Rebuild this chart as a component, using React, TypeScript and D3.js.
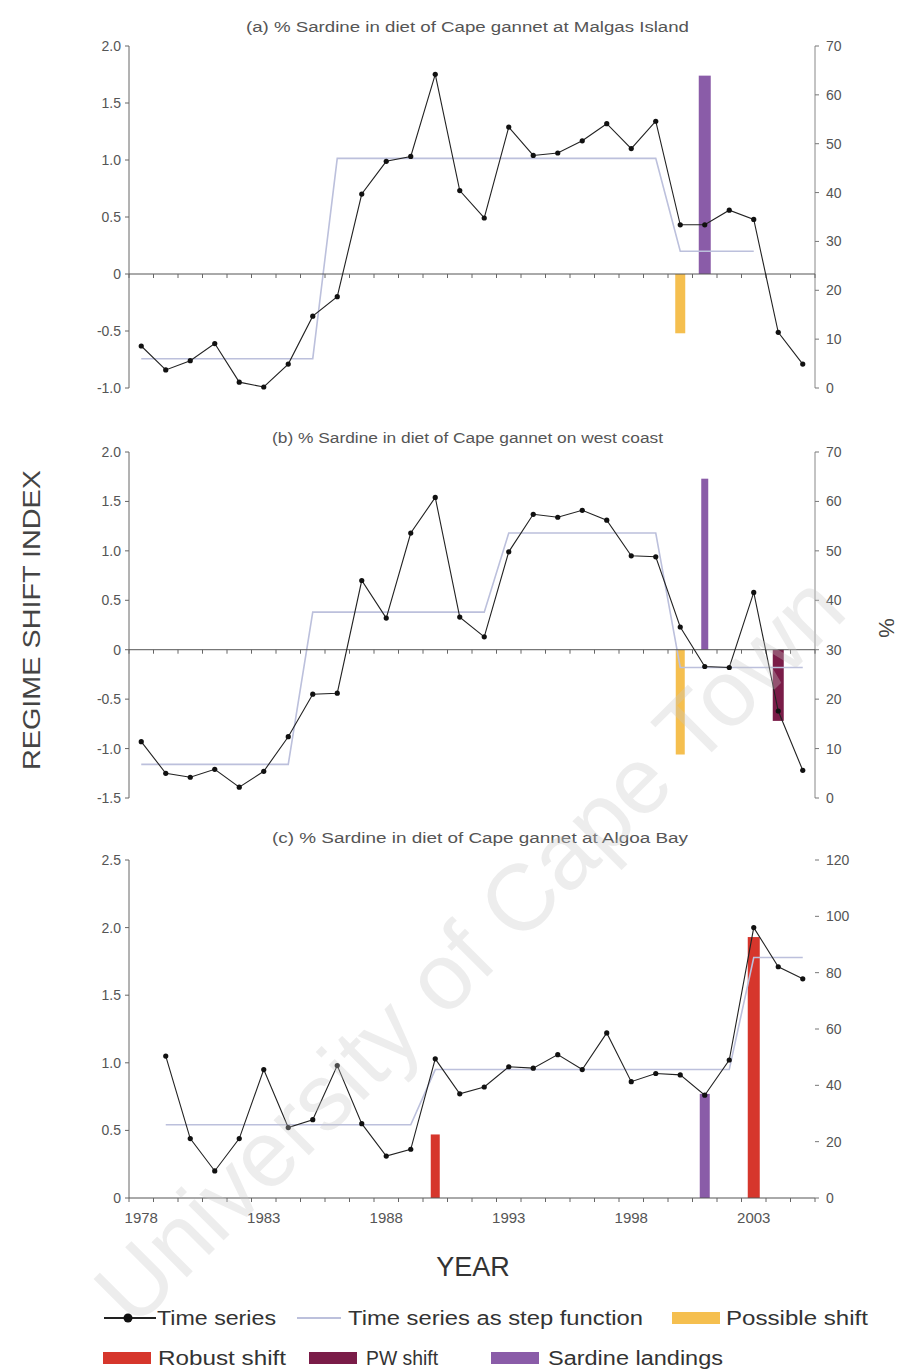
import React from "react";
import * as d3 from "d3";

// ---------- data ----------
const YEARS = d3.range(1978, 2006);
const YEAR_LABELS = [1978, 1983, 1988, 1993, 1998, 2003];

// (a) Malgas Island – % sardine in diet (right axis, %)
const malgasYears = [1978, 1979, 1980, 1981, 1982, 1983, 1984, 1985, 1986, 1987, 1988, 1989, 1990, 1991, 1992, 1993, 1994, 1995, 1996, 1997, 1998, 1999, 2000, 2001, 2002, 2003, 2004, 2005];
const malgasPct = [8.6, 3.7, 5.6, 9.1, 1.2, 0.2, 4.9, 14.7, 18.7, 39.7, 46.4, 47.4, 64.2, 40.4, 34.8, 53.4, 47.6, 48.1, 50.6, 54.1, 49.0, 54.6, 33.4, 33.4, 36.4, 34.5, 11.4, 4.9];
const malgasStepYears = [1978, 1979, 1980, 1981, 1982, 1983, 1984, 1985, 1986, 1987, 1988, 1989, 1990, 1991, 1992, 1993, 1994, 1995, 1996, 1997, 1998, 1999, 2000, 2001, 2002, 2003];
const malgasStep = [6, 6, 6, 6, 6, 6, 6, 6, 47, 47, 47, 47, 47, 47, 47, 47, 47, 47, 47, 47, 47, 47, 28, 28, 28, 28];
const malgasPossible = [{ year: 2000, rsi: -0.52 }];
const malgasLandings = [{ year: 2001, rsi: 1.74 }];

// (b) west coast
const westYears = [1978, 1979, 1980, 1981, 1982, 1983, 1984, 1985, 1986, 1987, 1988, 1989, 1990, 1991, 1992, 1993, 1994, 1995, 1996, 1997, 1998, 1999, 2000, 2001, 2002, 2003, 2004, 2005];
const westPct = [11.4, 5.0, 4.2, 5.8, 2.2, 5.4, 12.4, 21.0, 21.2, 44.0, 36.4, 53.6, 60.8, 36.6, 32.6, 49.8, 57.4, 56.8, 58.2, 56.2, 49.0, 48.8, 34.6, 26.6, 26.4, 41.6, 17.6, 5.6];
const westStep = [6.8, 6.8, 6.8, 6.8, 6.8, 6.8, 6.8, 37.6, 37.6, 37.6, 37.6, 37.6, 37.6, 37.6, 37.6, 53.6, 53.6, 53.6, 53.6, 53.6, 53.6, 53.6, 26.4, 26.4, 26.4, 26.4, 26.4, 26.4];
const westPossible = [{ year: 2000, rsi: -1.06 }];
const westPW = [{ year: 2004, rsi: -0.72 }];
const westLandings = [{ year: 2001, rsi: 1.73 }];

// (c) Algoa Bay
const algoaYears = [1979, 1980, 1981, 1982, 1983, 1984, 1985, 1986, 1987, 1988, 1989, 1990, 1991, 1992, 1993, 1994, 1995, 1996, 1997, 1998, 1999, 2000, 2001, 2002, 2003, 2004, 2005];
const algoaPct = [50.4, 21.1, 9.6, 21.1, 45.6, 25.0, 27.8, 47.0, 26.4, 14.9, 17.3, 49.4, 37.0, 39.4, 46.6, 46.1, 50.9, 45.6, 58.6, 41.3, 44.2, 43.7, 36.5, 49.0, 96.0, 82.1, 77.8];
const algoaStep = [26, 26, 26, 26, 26, 26, 26, 26, 26, 26, 26, 45.6, 45.6, 45.6, 45.6, 45.6, 45.6, 45.6, 45.6, 45.6, 45.6, 45.6, 45.6, 45.6, 85.4, 85.4, 85.4];
const algoaRobust = [{ year: 1990, rsi: 0.47 }, { year: 2003, rsi: 1.93 }];
const algoaLandings = [{ year: 2001, rsi: 0.77 }];

// axis ticks
const ticksLeftA = [-1, -0.5, 0, 0.5, 1, 1.5, 2];
const ticksLeftB = [-1.5, -1, -0.5, 0, 0.5, 1, 1.5, 2];
const ticksLeftC = [0, 0.5, 1, 1.5, 2, 2.5];
const ticksRightAB = [0, 10, 20, 30, 40, 50, 60, 70];
const ticksRightC = [0, 20, 40, 60, 80, 100, 120];

// ---------- styles ----------
const C_POSSIBLE = "#f5bf4f";
const C_ROBUST = "#d6362c";
const C_PW = "#7a1c48";
const C_LAND = "#8a5ca8";
const C_STEP = "#bcc0dc";
const FONT = "Liberation Sans, Arial, sans-serif";

const X0 = 129, X1 = 815;
const x = d3.scaleBand<number>().domain(YEARS).range([X0, X1]).padding(0);
const cx = (yr: number) => (x(yr) as number) + x.bandwidth() / 2;

type Bar = { year: number; rsi: number; color: string; w: number };
type Panel = {
  title: string; titleX: number; titleLen: number; titleY: number;
  top: number; bottom: number;
  lDom: [number, number]; rDom: [number, number];
  lTicks: number[]; rTicks: number[];
  years: number[]; pct: number[]; stepYears: number[]; step: number[];
  bars: Bar[]; rightLine: boolean; xLabels: boolean;
};

const panels: Panel[] = [
  {
    title: "(a) % Sardine in diet of Cape gannet at Malgas Island", titleX: 246, titleLen: 443, titleY: 32,
    top: 46, bottom: 388, lDom: [-1, 2], rDom: [0, 70], lTicks: ticksLeftA, rTicks: ticksRightAB,
    years: malgasYears, pct: malgasPct, stepYears: malgasStepYears, step: malgasStep,
    bars: [
      ...malgasPossible.map((d) => ({ ...d, color: C_POSSIBLE, w: 10 })),
      ...malgasLandings.map((d) => ({ ...d, color: C_LAND, w: 12 })),
    ],
    rightLine: true, xLabels: false,
  },
  {
    title: "(b) % Sardine in diet of Cape gannet on west coast", titleX: 272, titleLen: 391, titleY: 443,
    top: 452, bottom: 798, lDom: [-1.5, 2], rDom: [0, 70], lTicks: ticksLeftB, rTicks: ticksRightAB,
    years: westYears, pct: westPct, stepYears: westYears, step: westStep,
    bars: [
      ...westPossible.map((d) => ({ ...d, color: C_POSSIBLE, w: 9 })),
      ...westPW.map((d) => ({ ...d, color: C_PW, w: 11 })),
      ...westLandings.map((d) => ({ ...d, color: C_LAND, w: 7 })),
    ],
    rightLine: true, xLabels: false,
  },
  {
    title: "(c) % Sardine in diet of Cape gannet at Algoa Bay", titleX: 272, titleLen: 416, titleY: 843,
    top: 860, bottom: 1198, lDom: [0, 2.5], rDom: [0, 120], lTicks: ticksLeftC, rTicks: ticksRightC,
    years: algoaYears, pct: algoaPct, stepYears: algoaYears, step: algoaStep,
    bars: [
      ...algoaRobust.map((d) => ({ ...d, color: C_ROBUST, w: d.year === 2003 ? 12 : 9 })),
      ...algoaLandings.map((d) => ({ ...d, color: C_LAND, w: 10 })),
    ],
    rightLine: false, xLabels: true,
  },
];

const fmtL = (v: number) => (v === 0 ? "0" : v.toFixed(1));

function PanelView({ p }: { p: Panel }) {
  const yL = d3.scaleLinear().domain(p.lDom).range([p.bottom, p.top]);
  const yR = d3.scaleLinear().domain(p.rDom).range([p.bottom, p.top]);
  const y0 = yL(0);
  const line = d3.line<[number, number]>().x((d) => cx(d[0])).y((d) => yR(d[1]));
  const series: [number, number][] = p.years.map((yr, i) => [yr, p.pct[i]]);
  const steps: [number, number][] = p.stepYears.map((yr, i) => [yr, p.step[i]]);
  const boundaries = d3.range(0, YEARS.length + 1).map((k) => X0 + k * x.bandwidth());
  return (
    <g>
      <text x={p.titleX} y={p.titleY} fontSize={14} fill="#555" textLength={p.titleLen} lengthAdjust="spacingAndGlyphs">
        {p.title}
      </text>
      {/* left axis */}
      <line x1={X0} x2={X0} y1={p.top} y2={p.bottom} stroke="#666" strokeWidth={1} />
      {p.lTicks.map((t) => (
        <g key={"l" + t}>
          <line x1={X0 - 4} x2={X0} y1={yL(t)} y2={yL(t)} stroke="#666" />
          <text x={X0 - 8} y={yL(t)} dy="0.36em" textAnchor="end" fontSize={14} fill="#555">
            {fmtL(t)}
          </text>
        </g>
      ))}
      {/* right axis */}
      {p.rightLine && <line x1={X1} x2={X1} y1={p.top} y2={p.bottom} stroke="#888" strokeWidth={1} />}
      {p.rTicks.map((t) => (
        <g key={"r" + t}>
          <line x1={X1} x2={X1 + 4} y1={yR(t)} y2={yR(t)} stroke="#777" />
          <text x={X1 + 11} y={yR(t)} dy="0.36em" textAnchor="start" fontSize={14} fill="#555">
            {t}
          </text>
        </g>
      ))}
      {/* bars */}
      {p.bars.map((b, i) => (
        <rect key={"b" + i} x={cx(b.year) - b.w / 2} y={Math.min(yL(0), yL(b.rsi))} width={b.w}
          height={Math.abs(yL(b.rsi) - yL(0))} fill={b.color} />
      ))}
      {/* step function */}
      <path d={line(steps) || ""} fill="none" stroke={C_STEP} strokeWidth={1.6} />
      {/* zero / category axis */}
      <line x1={X0} x2={X1} y1={y0} y2={y0} stroke="#555" strokeWidth={1} />
      {boundaries.map((bx, i) => (
        <line key={"t" + i} x1={bx} x2={bx} y1={y0} y2={y0 + 4} stroke="#666" />
      ))}
      {p.xLabels &&
        YEAR_LABELS.map((yr) => (
          <text key={"x" + yr} x={cx(yr)} y={y0 + 25} textAnchor="middle" fontSize={15} fill="#555">
            {yr}
          </text>
        ))}
      {/* time series */}
      <path d={line(series) || ""} fill="none" stroke="#222" strokeWidth={1.1} />
      {series.map((d, i) => (
        <circle key={"c" + i} cx={cx(d[0])} cy={yR(d[1])} r={2.6} fill="#111" />
      ))}
    </g>
  );
}

export default function App() {
  return (
    <svg width={902} height={1372} viewBox="0 0 902 1372"
      style={{ position: "absolute", left: 0, top: 0, display: "block", background: "#fff" }}
      fontFamily={FONT}>
      <rect x={0} y={0} width={902} height={1372} fill="#fff" />
      {panels.map((p, i) => (
        <PanelView key={i} p={p} />
      ))}
      {/* axis titles */}
      <text transform="translate(40,620) rotate(-90)" textAnchor="middle" fontSize={24} fill="#444"
        textLength={300} lengthAdjust="spacingAndGlyphs">
        REGIME SHIFT INDEX
      </text>
      <text transform="translate(879,628) rotate(90)" textAnchor="middle" fontSize={22} fill="#444">
        %
      </text>
      <text x={473} y={1276} textAnchor="middle" fontSize={27} fill="#333">
        YEAR
      </text>
      {/* legend */}
      <g fontSize={20} fill="#333">
        <line x1={104} x2={156} y1={1318} y2={1318} stroke="#222" strokeWidth={2} />
        <circle cx={128} cy={1318} r={4.5} fill="#111" />
        <text x={157} y={1325} textLength={119} lengthAdjust="spacingAndGlyphs">Time series</text>
        <line x1={297} x2={341} y1={1318} y2={1318} stroke={C_STEP} strokeWidth={2} />
        <text x={348} y={1325} textLength={295} lengthAdjust="spacingAndGlyphs">Time series as step function</text>
        <rect x={672} y={1312} width={48} height={12} fill={C_POSSIBLE} />
        <text x={726} y={1325} textLength={142} lengthAdjust="spacingAndGlyphs">Possible shift</text>

        <rect x={103} y={1352} width={48} height={12} fill={C_ROBUST} />
        <text x={158} y={1365} textLength={128} lengthAdjust="spacingAndGlyphs">Robust shift</text>
        <rect x={309} y={1352} width={48} height={12} fill={C_PW} />
        <text x={366} y={1365} textLength={72} lengthAdjust="spacingAndGlyphs">PW shift</text>
        <rect x={491} y={1352} width={48} height={12} fill={C_LAND} />
        <text x={548} y={1365} textLength={175} lengthAdjust="spacingAndGlyphs">Sardine landings</text>
      </g>
      {/* watermark */}
      <text transform="translate(492,972) rotate(-45)" textAnchor="middle" fontSize={94}
        fill="#c8c8c8" opacity={0.32}>
        University of Cape Town
      </text>
    </svg>
  );
}
